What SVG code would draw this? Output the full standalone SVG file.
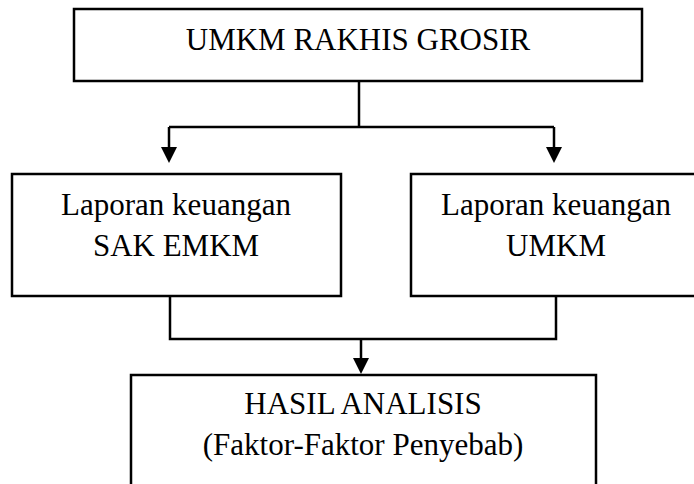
<svg xmlns="http://www.w3.org/2000/svg" width="694" height="484" viewBox="0 0 694 484">
  <style>
    .box { fill: #fff; stroke: #000; stroke-width: 2.5; }
    .lbl { font-family: "Liberation Serif", "Times New Roman", serif; font-size: 31px; fill: #000; text-anchor: middle; }
    .conn { fill: none; stroke: #000; stroke-width: 2.5; }
  </style>
  <defs>
    <marker id="arrow" markerUnits="userSpaceOnUse" markerWidth="16" markerHeight="16" viewBox="0 0 16 16" refX="3" refY="8" orient="auto">
      <path d="M0 0 L16 8 L0 16 Z" fill="#000"/>
    </marker>
  </defs>
  <rect width="694" height="484" fill="#fff"/>
  <g id="connectors">
    <path class="conn" d="M359 81 V127"/>
    <path class="conn" d="M169 127 H554"/>
    <path class="conn" d="M169 127 V150" marker-end="url(#arrow)"/>
    <path class="conn" d="M554 127 V150" marker-end="url(#arrow)"/>
    <path class="conn" d="M170 296 V339 H556 V296"/>
    <path class="conn" d="M361 339 V361" marker-end="url(#arrow)"/>
  </g>
  <g id="node-umkm">
    <rect class="box" x="74" y="9" width="568" height="72"/>
    <text class="lbl" x="358" y="50">UMKM RAKHIS GROSIR</text>
  </g>
  <g id="node-sak">
    <rect class="box" x="12" y="174" width="329" height="122"/>
    <text class="lbl" x="176" y="215">Laporan keuangan</text>
    <text class="lbl" x="176" y="256">SAK EMKM</text>
  </g>
  <g id="node-lk-umkm">
    <rect class="box" x="411" y="174" width="292" height="122"/>
    <text class="lbl" x="556" y="215">Laporan keuangan</text>
    <text class="lbl" x="556" y="256">UMKM</text>
  </g>
  <g id="node-hasil">
    <rect class="box" x="131" y="375" width="465" height="120"/>
    <text class="lbl" x="363" y="414">HASIL ANALISIS</text>
    <text class="lbl" x="363" y="455">(Faktor-Faktor Penyebab)</text>
  </g>
</svg>
